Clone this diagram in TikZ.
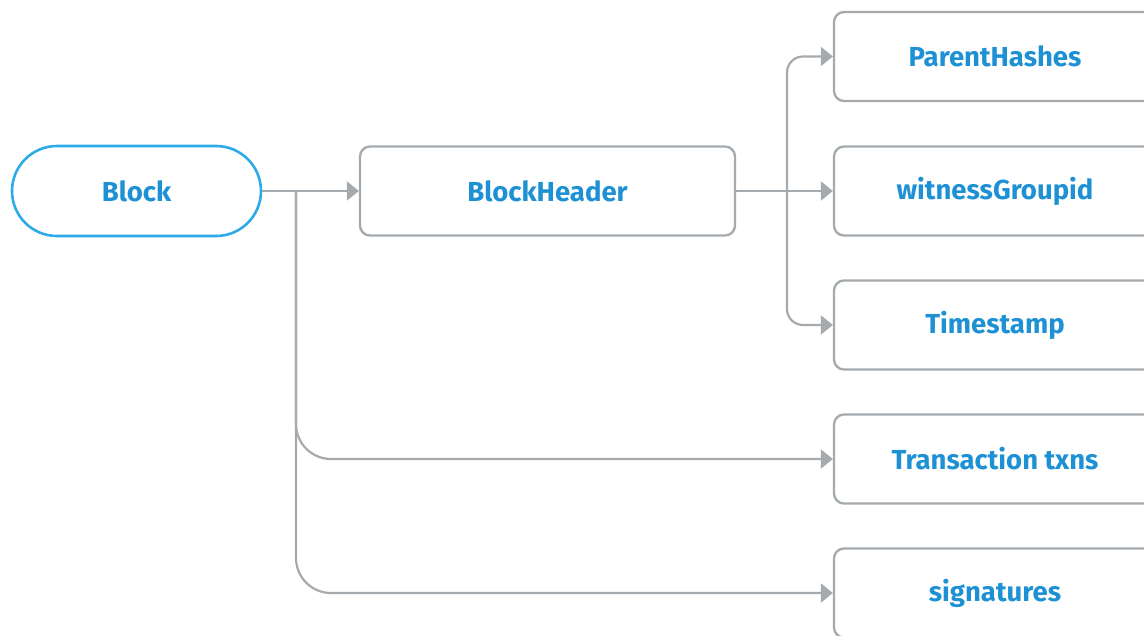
\documentclass[tikz,border=0pt]{standalone}
\usepackage{fontspec}
\setmainfont{Fira Sans}
\usetikzlibrary{arrows.meta}
\definecolor{tblue}{RGB}{30,145,212}
\definecolor{lblue}{RGB}{45,170,232}
\definecolor{lgrey}{RGB}{165,170,174}
\tikzset{
  box/.style={draw=lgrey, line width=2.3pt, rounded corners=10pt, minimum height=89pt, inner sep=0pt, text=tblue, font=\fontsize{27.5}{32}\selectfont\bfseries},
  term/.style={draw=lblue, line width=2.6pt, rounded corners=45pt, minimum width=249pt, minimum height=90pt, inner sep=0pt, text=tblue, font=\fontsize{27.5}{32}\selectfont\bfseries},
  conn/.style={draw=lgrey, line width=2.2pt, -{Triangle[length=12pt,width=19pt]}},
}
\begin{document}
\begin{tikzpicture}[x=1pt,y=-1pt]
\useasboundingbox (0,0) rectangle (1144,635);
\clip (0,0) rectangle (1144,635);
\node[term] (block) at (136.5,191) {Block};
\node[box, minimum width=375pt] (bh) at (547.5,191) {BlockHeader};
\node[box, minimum width=322pt] (ph) at (995,56.5) {ParentHashes};
\node[box, minimum width=322pt] (wg) at (995,191) {witnessGroupid};
\node[box, minimum width=322pt] (ts) at (995,325) {Timestamp};
\node[box, minimum width=322pt] (tx) at (995,459) {Transaction txns};
\node[box, minimum width=322pt] (sg) at (995,593) {signatures};
\coordinate (j1) at (296,191);
\coordinate (j2) at (787,191);
\draw[conn] (block.east) -- (bh.west);
\draw[conn] (bh.east) -- (wg.west);
\draw[conn, rounded corners=16pt] (j2) |- (ph.west);
\draw[conn, rounded corners=16pt] (j2) |- (ts.west);
\draw[conn, rounded corners=35pt] (j1) |- (tx.west);
\draw[conn, rounded corners=35pt] (j1) |- (sg.west);
\end{tikzpicture}
\end{document}
